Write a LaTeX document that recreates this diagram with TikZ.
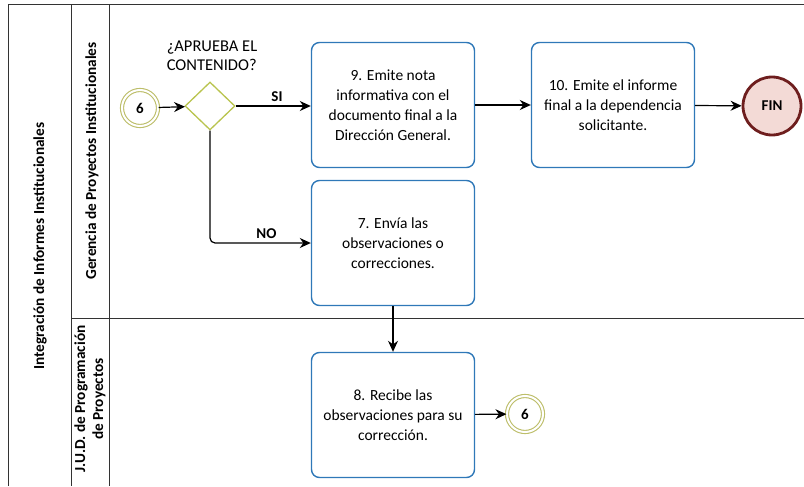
\documentclass[tikz,border=0pt]{standalone}
\usepackage{fontspec}
\setmainfont{Carlito}
\usetikzlibrary{shapes.geometric,arrows.meta,positioning}
\definecolor{boxblue}{HTML}{2F78B8}
\definecolor{gatecol}{HTML}{B9C44E}
\definecolor{linkcol}{HTML}{BDBE6A}
\definecolor{finborder}{HTML}{6E1E1E}
\definecolor{finfill}{HTML}{F3DAD6}
\tikzset{
  task/.style={draw=boxblue, line width=1.4pt, rounded corners=8pt, minimum width=163pt, minimum height=125pt, align=center, font=\fontsize{15.5}{20}\selectfont, fill=white},
  gate/.style={diamond, draw=gatecol, line width=1.3pt, minimum width=50pt, minimum height=48pt, inner sep=0pt, fill=white},
  linkev/.style={circle, draw=linkcol, line width=1.1pt, double=white, double distance=2pt, minimum size=36pt, inner sep=0pt, font=\bfseries\fontsize{15}{17}\selectfont},
  endev/.style={circle, draw=finborder, line width=2.8pt, fill=finfill, minimum size=58pt, inner sep=0pt, font=\bfseries\fontsize{15}{17}\selectfont},
  flow/.style={-{Stealth[length=11pt,width=10pt]}, line width=1.2pt, rounded corners=5pt},
  lane/.style={draw=black!80, line width=1pt},
  lanelabel/.style={rotate=90, font=\bfseries\fontsize{15.3}{18}\selectfont, align=center},
  flowlabel/.style={font=\bfseries\fontsize{15}{17}\selectfont}
}
\begin{document}
\begin{tikzpicture}[x=1pt,y=-1pt]
\useasboundingbox (0,0) rectangle (804,487);
% pool and lanes
\draw[lane] (8,486) -- (8,5) -- (804,5);
\draw[lane] (71,5) -- (71,486);
\draw[lane] (109,5) -- (109,486);
\draw[lane] (71,318) -- (804,318);
\node[lanelabel] (pool) at (40,246) {Integración de Informes Institucionales};
\node[lanelabel] (lane1) at (92,161) {Gerencia de Proyectos Institucionales};
\node[lanelabel] (lane2) at (90,399) {J.U.D. de Programación\\de Proyectos};
% nodes
\node[linkev] (start) at (140,108) {6};
\node[gate] (gw) at (210,106) {};
\node[font=\fontsize{16.5}{19}\selectfont, align=left, anchor=south] (gwlabel) at (212,74) {¿APRUEBA EL\\CONTENIDO?};
\node[task] (t9) at (393,105) {9. Emite nota\\informativa con el\\documento final a la\\Dirección General.};
\node[task] (t10) at (613,105) {10. Emite el informe\\final a la dependencia\\solicitante.};
\node[endev] (fin) at (772,106) {FIN};
\node[task] (t7) at (393,243) {7. Envía las\\observaciones o\\correcciones.};
\node[task] (t8) at (393,415) {8. Recibe las\\observaciones para su\\corrección.};
\node[linkev] (end6) at (525,414) {6};
% flows
\draw[flow] (start) -- (gw);
\draw[flow] (gw.east) -- node[flowlabel, above, pos=0.55] {SI} (gw.east -| t9.west);
\draw[flow] (gw.south) |- node[flowlabel, above, pos=0.78] {NO} (t7.west);
\draw[flow] (t9) -- (t10);
\draw[flow] (t10) -- (fin);
\draw[flow] (t7) -- (t8);
\draw[flow] (t8) -- (end6);
\end{tikzpicture}
\end{document}
